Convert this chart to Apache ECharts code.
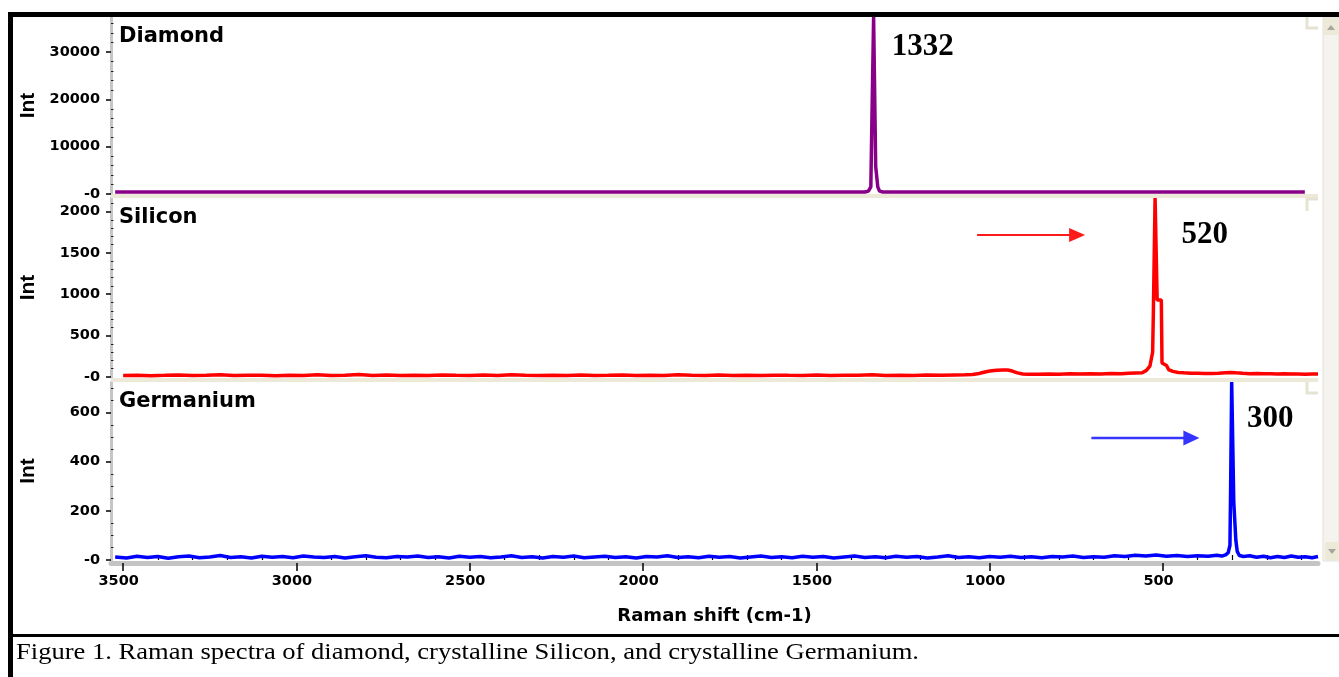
<!DOCTYPE html>
<html>
<head>
<meta charset="utf-8">
<script src="https://cdn.jsdelivr.net/npm/echarts@6/dist/echarts.min.js"></script>
<style>
  html, body { margin: 0; padding: 0; background: #fff; }
  #chart { width: 1339px; height: 677px; }
</style>
</head>
<body>
<div id="chart"></div>
<script>
// Raman shift (cm-1) vs intensity, one array per sample
const DIAMOND = [
  [3523, 420], [3200, 400], [2900, 420], [2600, 400], [2300, 410], [2000, 400],
  [1700, 420], [1500, 400], [1400, 410], [1360, 420], [1350, 600], [1343, 1500],
  [1340, 15200], [1336, 15200], [1335, 37400], [1330, 37400], [1329, 5800],
  [1325, 5800], [1323, 1500], [1318, 600], [1308, 420], [1290, 410],
  [1100, 400], [800, 420], [500, 400], [300, 410], [91, 400]
];

const SILICON = [
  [3500, 18], [3460, 22], [3420, 16], [3380, 20], [3340, 25], [3300, 18], [3260, 20],
  [3220, 27], [3180, 17], [3140, 21], [3100, 22], [3060, 16], [3020, 21], [2980, 19],
  [2940, 26], [2900, 18], [2860, 20], [2820, 29], [2780, 19], [2740, 23], [2700, 18],
  [2660, 21], [2620, 17], [2580, 24], [2540, 20], [2500, 19], [2460, 23], [2420, 18],
  [2380, 27], [2340, 20], [2300, 17], [2260, 22], [2220, 19], [2180, 25], [2140, 18],
  [2100, 20], [2060, 24], [2020, 19], [1980, 21], [1940, 18], [1900, 26], [1860, 20],
  [1820, 17], [1780, 23], [1740, 19], [1700, 21], [1660, 18], [1620, 22], [1580, 20],
  [1540, 19], [1500, 24], [1460, 18], [1420, 21], [1380, 20], [1340, 27], [1300, 18],
  [1260, 21], [1220, 19], [1180, 23], [1140, 20], [1100, 24], [1070, 26], [1050, 30],
  [1035, 38], [1020, 55], [1000, 72], [980, 82], [962, 86], [948, 84], [935, 72],
  [920, 50], [905, 36], [890, 32], [860, 34], [830, 37], [800, 33], [770, 38],
  [740, 35], [710, 40], [680, 37], [650, 42], [620, 40], [600, 44], [580, 48],
  [560, 52], [548, 80], [538, 130], [530, 300], [528, 770], [524, 770],
  [523, 2163], [518, 2163], [517, 930], [505, 930], [503, 170], [490, 140],
  [484, 90], [472, 68], [456, 55], [440, 50], [420, 46], [400, 44], [380, 42],
  [360, 43], [340, 46], [320, 52], [305, 55], [290, 50], [270, 44], [250, 40],
  [230, 42], [210, 38], [190, 40], [170, 36], [150, 38], [130, 35], [110, 37],
  [90, 34], [70, 36], [53, 35]
];

const GERMANIUM = [
  [3523, 12], [3490, 8], [3460, 15], [3430, 10], [3400, 14], [3370, 7], [3340, 13],
  [3310, 16], [3280, 9], [3250, 12], [3220, 18], [3190, 10], [3160, 13], [3130, 8],
  [3100, 15], [3070, 11], [3040, 14], [3010, 9], [2980, 16], [2950, 12], [2920, 10],
  [2890, 14], [2860, 8], [2830, 13], [2800, 17], [2770, 11], [2740, 9], [2710, 14],
  [2680, 12], [2650, 16], [2620, 10], [2590, 13], [2560, 8], [2530, 15], [2500, 11],
  [2470, 14], [2440, 9], [2410, 12], [2380, 17], [2350, 10], [2320, 13], [2290, 8],
  [2260, 14], [2230, 11], [2200, 16], [2170, 9], [2140, 12], [2110, 15], [2080, 10],
  [2050, 13], [2020, 8], [1990, 14], [1960, 12], [1930, 17], [1900, 10], [1870, 13],
  [1840, 9], [1810, 15], [1780, 11], [1750, 14], [1720, 8], [1690, 12], [1660, 16],
  [1630, 10], [1600, 13], [1570, 9], [1540, 15], [1510, 11], [1480, 14], [1450, 8],
  [1420, 12], [1390, 16], [1360, 10], [1330, 13], [1300, 9], [1270, 15], [1240, 11],
  [1210, 14], [1180, 8], [1150, 12], [1120, 17], [1090, 10], [1060, 13], [1030, 9],
  [1000, 14], [970, 11], [940, 15], [910, 10], [880, 13], [850, 9], [820, 14],
  [790, 12], [760, 16], [730, 10], [700, 13], [670, 11], [640, 17], [610, 14],
  [580, 19], [550, 16], [520, 20], [490, 15], [460, 18], [430, 14], [400, 17],
  [370, 15], [345, 19], [330, 16], [318, 22], [312, 30], [307, 60], [305, 298],
  [303, 298], [302, 724], [297, 724], [296, 237], [292, 237], [290, 80], [286, 35],
  [280, 18], [268, 14], [250, 17], [230, 11], [210, 15], [190, 9], [170, 14],
  [150, 10], [130, 16], [110, 11], [90, 13], [70, 9], [53, 14]
];

const PANEL_NAMES = ['Diamond', 'Silicon', 'Germanium'];
const PEAK_DIAMOND = 1332;
const PEAK_SILICON = 520;
const PEAK_GERMANIUM = 300;

// axis tick values
const X_MAJOR = [500, 1000, 1500, 2000, 2500, 3000, 3500];
const X_MINOR = [100, 200, 300, 400, 600, 700, 800, 900, 1100, 1200, 1300, 1400,
  1600, 1700, 1800, 1900, 2100, 2200, 2300, 2400, 2600, 2700, 2800, 2900,
  3100, 3200, 3300, 3400];
const Y_DIAMOND_MAJOR = [0, 10000, 20000, 30000];
const Y_DIAMOND_MINOR = [2000, 4000, 6000, 8000, 12000, 14000, 16000, 18000,
  22000, 24000, 26000, 28000, 32000, 34000, 36000];
const Y_SILICON_MAJOR = [0, 500, 1000, 1500, 2000];
const Y_SILICON_MINOR = [100, 200, 300, 400, 600, 700, 800, 900, 1100, 1200,
  1300, 1400, 1600, 1700, 1800, 1900, 2100];
const Y_GERMANIUM_MAJOR = [0, 200, 400, 600];
const Y_GERMANIUM_MINOR = [50, 100, 150, 250, 300, 350, 450, 500, 550, 650, 700];

const X_MIN = 53, X_MAX = 3535;
const Y_MAX = [37400, 2163, 724];

const BOLD_SANS = 'DejaVu Sans';
const chart = echarts.init(document.getElementById('chart'), null, { renderer: 'canvas' });

function xAxisHidden(gridIndex) {
  return {
    gridIndex, type: 'value', min: X_MIN, max: X_MAX, inverse: true, show: false
  };
}

function yAxesFor(gridIndex, max, major, minor) {
  return [
    {
      gridIndex, type: 'value', min: 0, max, position: 'left',
      name: 'Int', nameLocation: 'middle', nameGap: 72, nameRotate: 90,
      nameTextStyle: { fontFamily: 'Liberation Sans', fontWeight: 'bold', fontSize: 21, color: '#000' },
      axisLine: { show: true, onZero: false, lineStyle: { color: '#c6c6c6', width: 3 } },
      axisTick: { show: true, customValues: major, length: 5, lineStyle: { color: '#000', width: 1.5 } },
      axisLabel: {
        customValues: major, margin: 11,
        formatter: v => (v === 0 ? '-0' : String(v)),
        fontFamily: BOLD_SANS, fontWeight: 'bold', fontSize: 14.5, color: '#000'
      },
      splitLine: { show: false }
    },
    {
      gridIndex, type: 'value', min: 0, max, position: 'left',
      axisLine: { show: false },
      axisTick: { show: true, inside: true, customValues: minor, length: 2.5, lineStyle: { color: '#222', width: 1 } },
      axisLabel: { show: false },
      splitLine: { show: false }
    }
  ];
}

const option = {
  animation: false,
  backgroundColor: '#fff',
  grid: [
    { left: 111, right: 21, top: 17, height: 177 },
    { left: 111, right: 21, top: 198, height: 179 },
    { left: 111, right: 21, top: 382, height: 178 }
  ],
  xAxis: [
    xAxisHidden(0),
    xAxisHidden(1),
    {
      gridIndex: 2, type: 'value', min: X_MIN, max: X_MAX, inverse: true, offset: 3,
      name: 'Raman shift (cm-1)', nameLocation: 'middle', nameGap: 44,
      nameTextStyle: { fontFamily: BOLD_SANS, fontWeight: 'bold', fontSize: 18, color: '#000' },
      axisLine: { show: true, onZero: false, lineStyle: { color: '#c4c4c4', width: 5 } },
      axisTick: { show: true, customValues: X_MAJOR, length: 8, lineStyle: { color: '#000', width: 1.5 } },
      axisLabel: {
        customValues: X_MAJOR, margin: 11, padding: [0, 9, 0, 0],
        formatter: v => String(v),
        fontFamily: BOLD_SANS, fontWeight: 'bold', fontSize: 14.5, color: '#000'
      },
      splitLine: { show: false }
    },
    {
      gridIndex: 2, type: 'value', min: X_MIN, max: X_MAX, inverse: true, offset: 3,
      axisLine: { show: false },
      axisTick: { show: true, customValues: X_MINOR, length: 5, lineStyle: { color: '#000', width: 1.2 } },
      axisLabel: { show: false },
      splitLine: { show: false }
    }
  ],
  yAxis: [
    ...yAxesFor(0, Y_MAX[0], Y_DIAMOND_MAJOR, Y_DIAMOND_MINOR),
    ...yAxesFor(1, Y_MAX[1], Y_SILICON_MAJOR, Y_SILICON_MINOR),
    ...yAxesFor(2, Y_MAX[2], Y_GERMANIUM_MAJOR, Y_GERMANIUM_MINOR)
  ],
  series: [
    {
      name: PANEL_NAMES[0], type: 'line', xAxisIndex: 0, yAxisIndex: 0, data: DIAMOND,
      showSymbol: false, lineStyle: { color: '#880088', width: 3.5 }, z: 5
    },
    {
      name: PANEL_NAMES[1], type: 'line', xAxisIndex: 1, yAxisIndex: 2, data: SILICON,
      showSymbol: false, lineStyle: { color: '#ff0000', width: 3.5 }, z: 5
    },
    {
      name: PANEL_NAMES[2], type: 'line', xAxisIndex: 2, yAxisIndex: 4, data: GERMANIUM,
      showSymbol: false, lineStyle: { color: '#0000ff', width: 3.5 }, z: 5
    }
  ]
};

chart.setOption(option);

// pixel positions of the labelled peaks
const pxDiamond = chart.convertToPixel({ xAxisIndex: 0 }, PEAK_DIAMOND);
const pxSilicon = chart.convertToPixel({ xAxisIndex: 1 }, PEAK_SILICON);
const pxGermanium = chart.convertToPixel({ xAxisIndex: 2 }, PEAK_GERMANIUM);

const BEIGE = '#ece9d8';

function peakLabel(text, x, y) {
  return {
    type: 'text', x, y, z: 50,
    style: { text, fontFamily: 'Liberation Serif', fontWeight: 'bold', fontSize: 31, fill: '#000', verticalAlign: 'middle' }
  };
}
function panelTitle(text, y) {
  return {
    type: 'text', x: 119, y, z: 50,
    style: { text, fontFamily: BOLD_SANS, fontWeight: 'bold', fontSize: 21, fill: '#000', verticalAlign: 'middle' }
  };
}
function arrow(color, xEnd, y, width, headLen, headHalf) {
  return [
    { type: 'line', z: 40, shape: { x1: xEnd - 108, y1: y, x2: xEnd - headLen + 2, y2: y }, style: { stroke: color, lineWidth: width } },
    { type: 'polygon', z: 40, shape: { points: [[xEnd - headLen, y - headHalf], [xEnd, y], [xEnd - headLen, y + headHalf]] }, style: { fill: color } }
  ];
}
function bracket(points) {
  return { type: 'polyline', z: 3, shape: { points }, style: { stroke: '#e6e3d3', lineWidth: 3, fill: null } };
}

chart.setOption({
  graphic: [
    // separators between the stacked panels
    { type: 'rect', z: 1, shape: { x: 111, y: 194, width: 1207, height: 4 }, style: { fill: BEIGE } },
    { type: 'rect', z: 1, shape: { x: 111, y: 378, width: 1207, height: 4 }, style: { fill: BEIGE } },
    bracket([[1307, 17], [1307, 28], [1318, 28]]),
    bracket([[1318, 199], [1307, 199], [1307, 211]]),
    bracket([[1307, 382], [1307, 393], [1318, 393]]),
    // scroll bar on the right
    { type: 'rect', z: 1, shape: { x: 1323, y: 17, width: 16, height: 544 }, style: { fill: '#f4f3ee', stroke: '#e2e0d6', lineWidth: 1 } },
    { type: 'rect', z: 2, shape: { x: 1323, y: 18, width: 16, height: 17 }, style: { fill: BEIGE } },
    { type: 'polygon', z: 3, shape: { points: [[1327, 30], [1331, 25], [1335, 30]] }, style: { fill: '#a8a69c' } },
    { type: 'rect', z: 2, shape: { x: 1325, y: 542, width: 14, height: 18 }, style: { fill: BEIGE } },
    { type: 'polygon', z: 3, shape: { points: [[1328, 549], [1332, 554], [1336, 549]] }, style: { fill: '#a8a69c' } },
    // frame
    { type: 'rect', z: 60, shape: { x: 8, y: 12, width: 1331, height: 5 }, style: { fill: '#000' } },
    { type: 'rect', z: 60, shape: { x: 8, y: 12, width: 5, height: 665 }, style: { fill: '#000' } },
    { type: 'rect', z: 60, shape: { x: 8, y: 634, width: 1331, height: 3 }, style: { fill: '#000' } },
    // panel titles
    panelTitle(PANEL_NAMES[0], 36.5),
    panelTitle(PANEL_NAMES[1], 218),
    panelTitle(PANEL_NAMES[2], 402),
    // peak positions
    peakLabel(String(PEAK_DIAMOND), pxDiamond + 17, 47),
    peakLabel(String(PEAK_SILICON), pxSilicon + 25.5, 235),
    peakLabel(String(PEAK_GERMANIUM), pxGermanium + 14.5, 419),
    ...arrow('#ff1a1a', pxSilicon - 71, 235, 2, 16, 7),
    ...arrow('#3535ff', pxGermanium - 33, 438, 2.5, 16, 7.5),
    // caption
    {
      type: 'text', x: 16, y: 653, z: 50, scaleX: 1.155,
      style: {
        text: 'Figure 1. Raman spectra of diamond, crystalline Silicon, and crystalline Germanium.',
        fontFamily: 'Liberation Serif', fontSize: 23, fill: '#000', verticalAlign: 'middle'
      }
    }
  ]
});
</script>
</body>
</html>
